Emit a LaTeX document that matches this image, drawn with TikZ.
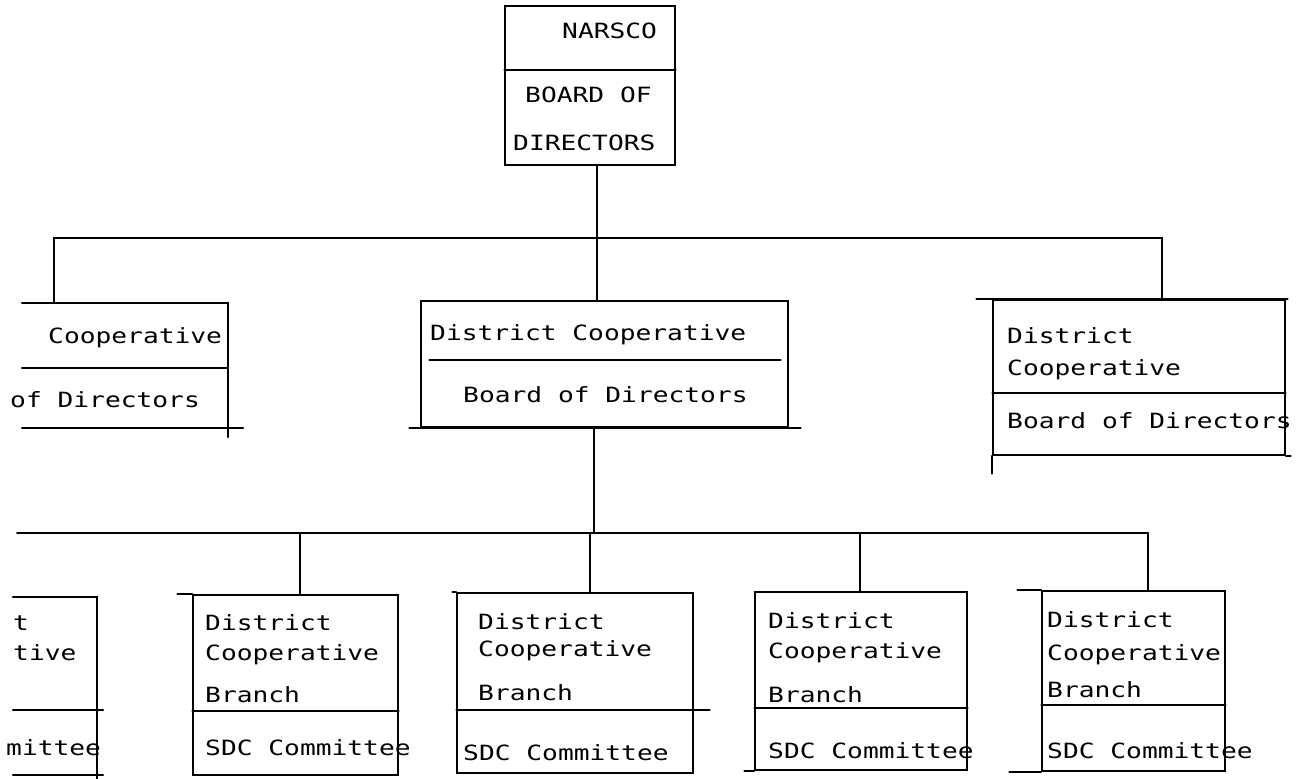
\documentclass[tikz,border=0pt]{standalone}
\usepackage{fontspec}
\usetikzlibrary{fit}
\newfontfamily\twfont[FakeStretch=1.25]{DejaVu Sans Mono}
\tikzset{
  ln/.style={line width=1.6pt, line cap=round, draw=black},
  frame/.style={ln, inner sep=0pt, rectangle},
  openframe/.style={draw=none, inner sep=0pt, rectangle},
  txt/.style={anchor=base west, inner sep=0pt, font=\twfont\fontsize{21}{25}\selectfont},
}
\begin{document}
\begin{tikzpicture}[x=1pt,y=-1pt]
\useasboundingbox (0,0) rectangle (1304,779);
\fill[white] (0,0) rectangle (1304,779);

% ---------- boxes ----------
\node[frame, fit={(505,6) (675,165)}] (narsco) {};
\node[openframe, fit={(22,303) (228,428)}] (tl) {};
\node[frame, fit={(421,301) (788,427)}] (mid) {};
\node[frame, fit={(993,300) (1285,455)}] (tr) {};
\node[openframe, fit={(13,597) (97,775)}] (b0) {};
\node[frame, fit={(193,595) (398,775)}] (b1) {};
\node[frame, fit={(457,593) (693,773)}] (b2) {};
\node[frame, fit={(755,592) (967,770)}] (b3) {};
\node[frame, fit={(1042,591) (1225,771)}] (b4) {};

% open (cut) boxes
\draw[ln] (tl.north west) -- (tl.north east) -- ([yshift=-9pt]tl.south east);
\draw[ln] (tl.south west) -- ([xshift=15pt]tl.south east);
\draw[ln] (b0.north west) -- (b0.north east) -- ([yshift=-4pt]b0.south east);
\draw[ln] (b0.south west) -- ([xshift=6pt]b0.south east);

% overshooting edges (typewritten look)
\draw[ln] ([xshift=-11pt]mid.south west) -- ([xshift=12pt]mid.south east);
\draw[ln] ([xshift=-16pt]tr.north west) -- ([xshift=2pt]tr.north east);
\draw[ln] (tr.south west) -- ([yshift=-18pt]tr.south west);
\draw[ln] (tr.south east) -- ([xshift=5pt]tr.south east);
\draw[ln] ([xshift=-15pt]b1.north west) -- (b1.north west);
\draw[ln] ([xshift=-4pt]b2.north west) -- (b2.north west);
\draw[ln] ([xshift=-10pt]b3.south west) -- (b3.south west);
\draw[ln] ([xshift=-24pt]b4.north west) -- (b4.north west);
\draw[ln] ([xshift=-32pt]b4.south west) -- (b4.south west);

% dividers
\draw[ln] (narsco.west |- 0,70) -- (narsco.east |- 0,70);
\draw[ln] (tl.west |- 0,368) -- (tl.east |- 0,368);
\draw[ln] ([xshift=9pt]mid.west |- 0,360) -- ([xshift=-8pt]mid.east |- 0,360);
\draw[ln] (tr.west |- 0,393) -- (tr.east |- 0,393);
\draw[ln] (b0.west |- 0,710) -- ([xshift=6pt]b0.east |- 0,710);
\draw[ln] (b1.west |- 0,711) -- (b1.east |- 0,711);
\draw[ln] (b2.west |- 0,710) -- ([xshift=16pt]b2.east |- 0,710);
\draw[ln] (b3.west |- 0,708) -- (b3.east |- 0,708);
\draw[ln] (b4.west |- 0,705) -- (b4.east |- 0,705);

% ---------- connectors ----------
\coordinate (cL) at (54,238);
\coordinate (cM) at (597,238);
\coordinate (cR) at (1162,238);
\draw[ln] (cL |- tl.north) -- (cL) -- (cR) -- (cR |- tr.north);
\draw[ln] (cM |- narsco.south) -- (cM |- mid.north);

\coordinate (hs) at (17,533);
\coordinate (j2) at (594,533);
\coordinate (d1) at (300,533);
\coordinate (d2) at (590,533);
\coordinate (d3) at (860,533);
\coordinate (d4) at (1148,533);
\draw[ln] (j2 |- mid.south) -- (j2);
\draw[ln] (hs) -- (d4);
\draw[ln] (d1) -- (d1 |- b1.north);
\draw[ln] (d2) -- (d2 |- b2.north);
\draw[ln] (d3) -- (d3 |- b3.north);
\draw[ln] (d4) -- (d4 |- b4.north);

% ---------- texts ----------
\node[txt] (n1) at (562,38) {NARSCO};
\node[txt] (n2) at (525,102) {BOARD OF};
\node[txt] (n3) at (513,150) {DIRECTORS};

\node[txt] (tl1) at (48,343) {Cooperative};
\node[txt] (tl2) at (10,407) {of Directors};

\node[txt] (m1) at (430,340) {District Cooperative};
\node[txt] (m2) at (463,402) {Board of Directors};

\node[txt] (r1) at (1007,343) {District};
\node[txt] (r2) at (1007,375) {Cooperative};
\node[txt] (r3) at (1007,428) {Board of Directors};

\node[txt] (a1) at (13,630) {t};
\node[txt] (a2) at (13,660) {tive};
\node[txt] (a4) at (6,755) {mittee};

\node[txt] (e1) at (205,630) {District};
\node[txt] (e2) at (205,660) {Cooperative};
\node[txt] (e3) at (205,702) {Branch};
\node[txt] (e4) at (205,755) {SDC Committee};

\node[txt] (f1) at (478,629) {District};
\node[txt] (f2) at (478,656) {Cooperative};
\node[txt] (f3) at (478,700) {Branch};
\node[txt] (f4) at (463,760) {SDC Committee};

\node[txt] (g1) at (768,628) {District};
\node[txt] (g2) at (768,658) {Cooperative};
\node[txt] (g3) at (768,702) {Branch};
\node[txt] (g4) at (768,758) {SDC Committee};

\node[txt] (h1) at (1047,627) {District};
\node[txt] (h2) at (1047,660) {Cooperative};
\node[txt] (h3) at (1047,697) {Branch};
\node[txt] (h4) at (1047,758) {SDC Committee};
\end{tikzpicture}
\end{document}
